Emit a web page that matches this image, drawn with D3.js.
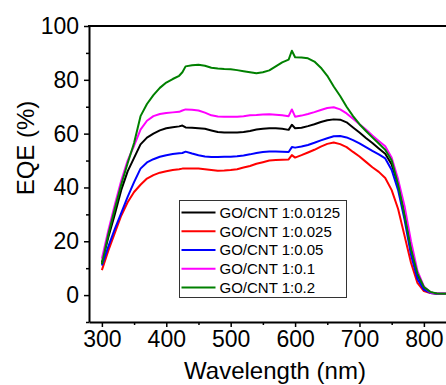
<!DOCTYPE html>
<html>
<head>
<meta charset="utf-8">
<script src="https://cdn.jsdelivr.net/npm/d3@7"></script>
<style>
  body { margin: 0; background: #fff; }
  svg { display: block; font-family: "Liberation Sans", Arial, sans-serif; }
</style>
</head>
<body>
<div id="chart"></div>
<script>
// wavelength grid (nm)
const wavelength = [300, 310, 320, 330, 340, 350, 360, 370, 380, 390, 400, 410, 420, 425, 430, 440, 450, 460, 470, 480,
  490, 500, 510, 520, 530, 540, 550, 560, 570, 580, 590, 595, 600, 610, 620, 630, 640, 650, 660, 670,
  680, 690, 700, 710, 720, 730, 740, 750, 760, 770, 780, 790, 800, 810, 820, 830, 840, 850];

// EQE (%) per ratio
const eqe0125 = [12, 21.5, 30, 39, 46, 51, 56, 58.5, 60, 61.2, 62, 62.4, 62.7, 63, 62.3, 62.2, 62, 61.8, 61.2, 60.6,
  60.4, 60.4, 60.4, 60.6, 61, 61.5, 61.8, 62, 62, 61.8, 61.4, 63.3, 62, 62.2, 62.8, 63.5, 64.3, 65, 65.3, 65.2,
  64.2, 62.3, 60.4, 58.4, 56.5, 54.5, 52.5, 48.5, 41, 30.5, 18, 7.5, 2.8, 1, 0.6, 0.5, 0.5, 0.5];
const eqe025 = [9.3, 16.5, 23, 29.5, 34.5, 38.3, 41, 43.3, 44.6, 45.5, 46, 46.5, 46.8, 47, 47, 47, 47, 46.8, 46.5, 46.2,
  46.3, 46.5, 46.8, 47.4, 48, 48.8, 49.4, 50, 50.2, 50.3, 50.4, 52, 51.1, 52, 53, 54, 55.2, 56.2, 56.7, 56.1,
  55, 53.2, 51.5, 49.5, 47.5, 45.8, 43.5, 39, 32, 22, 12, 4.5, 1.5, 0.8, 0.5, 0.5, 0.5, 0.5];
const eqe05 = [11, 18, 24.5, 30.5, 36.5, 42, 47, 49.3, 50.5, 51.4, 52, 52.4, 52.7, 52.8, 53.3, 52.6, 52, 51.5, 51.3, 51.3,
  51.4, 51.4, 51.6, 51.9, 52.3, 52.8, 53.2, 53.4, 53.4, 53.3, 53.2, 55, 54.8, 55.2, 55.8, 56.6, 57.5, 58.3, 59, 59.1,
  58.6, 57.6, 56.4, 55, 53.6, 52.3, 50.8, 46.5, 39, 28, 15, 6, 2, 0.8, 0.5, 0.5, 0.5, 0.5];
const eqe1 = [13.5, 24, 33.5, 42.5, 50, 55.5, 61.5, 64.8, 66.5, 67.3, 67.7, 67.9, 68.1, 68.6, 69, 68.9, 68.6, 67.8, 66.8, 66.4,
  66.3, 66.3, 66.3, 66.5, 66.8, 66.9, 67.1, 67.2, 67, 66.8, 66.5, 69, 66.3, 66.7, 67.3, 68, 68.8, 69.5, 69.8, 69,
  67.5, 65.5, 63.5, 61.5, 59.3, 57.3, 55.3, 51, 43, 33, 20, 9, 3.2, 1, 0.6, 0.5, 0.5, 0.5];
const eqe2 = [11.5, 22.5, 32, 41, 49, 56.5, 66.5, 71, 74.3, 77, 79, 80.3, 81.5, 82.8, 85, 85.4, 85.6, 85.2, 84.5, 84.2,
  84, 83.9, 83.6, 83.2, 82.8, 82.4, 82.8, 83.5, 85, 86.5, 87.5, 90.8, 88.4, 88.3, 88, 86.8, 84.5, 81.5, 77.5, 74,
  70, 66.5, 63.5, 61, 58.6, 56.3, 54, 50, 41, 29.5, 17, 8, 3, 1.2, 0.6, 0.5, 0.5, 0.5];

const seriesNames = ["GO/CNT 1:0.0125", "GO/CNT 1:0.025", "GO/CNT 1:0.05", "GO/CNT 1:0.1", "GO/CNT 1:0.2"];
const seriesValues = [eqe0125, eqe025, eqe05, eqe1, eqe2];
const seriesColors = ["#000000", "#ff0000", "#0000ff", "#ff00ff", "#008000"];

const xTicks = [300, 400, 500, 600, 700, 800];
const xMinor = [350, 450, 550, 650, 750, 850];
const yTicks = [0, 20, 40, 60, 80, 100];
const yMinor = [-10, 10, 30, 50, 70, 90];

const width = 446, height = 385;
const plot = { left: 89, top: 26, bottom: 322 };

const svg = d3.select("#chart").append("svg")
  .attr("width", width)
  .attr("height", height);

const x = d3.scaleLinear().domain([280, 850]).range([plot.left, plot.left + 570 * 0.644]);
const y = d3.scaleLinear().domain([-10, 100]).range([plot.bottom, plot.top]);

// minor ticks first
svg.append("g")
  .attr("transform", `translate(${plot.left},0)`)
  .call(d3.axisLeft(y).tickValues(yMinor).tickSize(3).tickFormat(""))
  .call(g => g.select(".domain").remove());
svg.append("g")
  .attr("transform", `translate(0,${plot.bottom})`)
  .call(d3.axisBottom(x).tickValues(xMinor).tickSize(3).tickFormat(""))
  .call(g => g.select(".domain").remove());

// major axes
const yAxis = svg.append("g")
  .attr("transform", `translate(${plot.left},0)`)
  .call(d3.axisLeft(y).tickValues(yTicks).tickSize(5).tickSizeOuter(0).tickPadding(5));
const xAxis = svg.append("g")
  .attr("transform", `translate(0,${plot.bottom})`)
  .call(d3.axisBottom(x).tickValues(xTicks).tickSize(5).tickSizeOuter(0).tickPadding(4));

svg.selectAll(".tick line").attr("stroke", "#000").attr("stroke-width", 1.5);
[yAxis, xAxis].forEach(a => {
  a.select(".domain").attr("stroke", "#000").attr("stroke-width", 2);
  a.selectAll("text").attr("font-size", 23).attr("fill", "#000")
    .attr("font-family", "'Liberation Sans', Arial, sans-serif");
});

// top frame line
svg.append("line")
  .attr("x1", plot.left - 1).attr("x2", width)
  .attr("y1", plot.top).attr("y2", plot.top)
  .attr("stroke", "#000").attr("stroke-width", 2);

// curves
const line = d3.line()
  .x((d, i) => x(wavelength[i]))
  .y(d => y(d));

svg.append("g")
  .selectAll("path")
  .data(seriesValues)
  .enter()
  .append("path")
  .attr("d", d => line(d))
  .attr("fill", "none")
  .attr("stroke", (d, i) => seriesColors[i])
  .attr("stroke-width", 2)
  .attr("stroke-linejoin", "round");

// legend
const legend = svg.append("g").attr("transform", "translate(179.5,200.5)");
legend.append("rect")
  .attr("width", 167).attr("height", 97)
  .attr("fill", "#fff").attr("stroke", "#333").attr("stroke-width", 1);

const rows = legend.selectAll(".row")
  .data(seriesNames)
  .enter()
  .append("g")
  .attr("transform", (d, i) => `translate(0,${12 + i * 18.75})`);
rows.append("line")
  .attr("x1", 2).attr("x2", 36)
  .attr("stroke", (d, i) => seriesColors[i])
  .attr("stroke-width", 2);
rows.append("text")
  .attr("x", 40).attr("dy", "0.35em")
  .attr("font-size", 15)
  .attr("fill", "#000")
  .text(d => d);

// axis titles
svg.append("text")
  .attr("transform", "translate(34,148) rotate(-90)")
  .attr("text-anchor", "middle")
  .attr("font-size", 24)
  .text("EQE (%)");
svg.append("text")
  .attr("x", 275).attr("y", 379)
  .attr("text-anchor", "middle")
  .attr("font-size", 24)
  .text("Wavelength (nm)");
</script>
</body>
</html>
